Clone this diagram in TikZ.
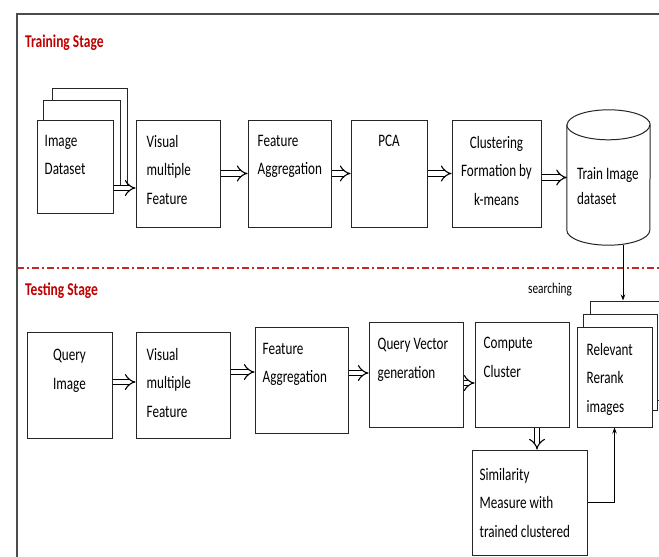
\documentclass[tikz,border=0pt]{standalone}
\usepackage{fontspec}
\setmainfont{Carlito}[FakeStretch=0.75]
\usetikzlibrary{shapes.geometric, arrows.meta, calc}
\definecolor{stagered}{HTML}{C00000}

\begin{document}
\begin{tikzpicture}[
         x=1pt, y=-1pt,
         box/.style={draw=black!85, line width=1pt, fill=white, inner sep=0pt},
         boxtext/.style={font=\fontsize{17.5}{28.5}\selectfont, align=left, anchor=north west, inner sep=0pt},
         ctrtext/.style={boxtext, align=center, anchor=north},
         stage/.style={font=\fontsize{18}{20}\selectfont\bfseries, text=stagered, anchor=base west, inner sep=0pt},
         dbl/.style={double, double distance=4.5pt, line width=1.1pt, -{Implies}},
         arr/.style={-{Stealth[length=6pt]}, line width=1pt},
         frame/.style={draw=black!70, line width=1.5pt},
         divider/.style={draw=stagered!85, line width=1.2pt, dash pattern=on 7pt off 3pt on 2pt off 3pt}
      ]
         \useasboundingbox (0,0) rectangle (659,557);

         % Frame and stage divider
         \draw[frame] (17,557) -- (17,14) -- (659,14);
         \draw[divider] (17,268) -- (659,268);
         \node[stage] (train) at (25,47) {Training Stage};
         \node[stage] (test) at (25,295) {Testing Stage};

         % Training nodes
         \node[box, minimum width=75pt, minimum height=97pt] (img3) at (89.5,136.5) {};
         \node[box, minimum width=77pt, minimum height=90pt] (img2) at (81.5,145) {};
         \node[box, minimum width=76pt, minimum height=93pt] (imgds) at (75,166.5) {};
         \node[box, minimum width=84pt, minimum height=107pt] (vmf) at (178,173.5) {};
         \node[box, minimum width=83pt, minimum height=107pt] (fa) at (289.5,173.5) {};
         \node[box, minimum width=76pt, minimum height=107pt] (pca) at (389,173.5) {};
         \node[box, minimum width=89pt, minimum height=107pt] (clu) at (496.5,173.5) {};
         \node[minimum width=83pt, minimum height=135pt, inner sep=0pt] (trainds) at (608.5,177.5) {};

         % Cylinder round the train store
         \draw[box] ([yshift=-15pt]trainds.north west) -- ([yshift=15pt]trainds.south west)
            arc[start angle=180, end angle=360, x radius=41.5pt, y radius=15pt]
            -- ([yshift=-15pt]trainds.north east)
            arc[start angle=0, end angle=180, x radius=41.5pt, y radius=15pt] -- cycle;
         \draw[box] ([yshift=-15pt]trainds.north west)
            arc[start angle=180, end angle=360, x radius=41.5pt, y radius=15pt];

         \node[boxtext] (imgds-t) at ([shift={(8pt,-15.5pt)}]imgds.north west) {Image\\Dataset};
         \node[boxtext] (vmf-t) at ([shift={(11pt,-15.5pt)}]vmf.north west) {Visual\\multiple\\Feature};
         \node[boxtext] (fa-t) at ([shift={(10pt,-15.5pt)}]fa.north west) {Feature\\Aggregation};
         \node[ctrtext] (pca-t) at ([yshift=-15.5pt]pca.north) {PCA};
         \node[ctrtext] (clu-t) at ([yshift=-16.5pt]clu.north) {Clustering\\Formation by\\k-means};
         \node[boxtext, font=\fontsize{17.5}{25}\selectfont] (trainds-t) at ([shift={(10pt,10pt)}]trainds.west) {Train Image\\dataset};

         % Testing nodes
         \node[box, minimum width=85pt, minimum height=106pt] (qi) at (69.5,385) {};
         \node[box, minimum width=94pt, minimum height=106pt] (vmf2) at (183,385) {};
         \node[box, minimum width=93pt, minimum height=106pt] (fa2) at (301.5,380) {};
         \node[box, minimum width=94pt, minimum height=105pt] (qv) at (416,374.5) {};
         \node[box, minimum width=94pt, minimum height=105pt] (cc) at (522,374.5) {};
         \node[box, minimum width=78pt, minimum height=99pt] (rel3) at (629,350.5) {};
         \node[box, minimum width=74pt, minimum height=96pt] (rel2) at (620,362) {};
         \node[box, minimum width=75pt, minimum height=100pt] (rel) at (614.5,377) {};
         \node[box, minimum width=115pt, minimum height=105pt] (sim) at (529.5,502.5) {};

         \node[ctrtext] (qi-t) at ([yshift=-17.5pt]qi.north) {Query\\Image};
         \node[boxtext] (vmf2-t) at ([shift={(11pt,-16.5pt)}]vmf2.north west) {Visual\\multiple\\Feature};
         \node[boxtext] (fa2-t) at ([shift={(8pt,-16.5pt)}]fa2.north west) {Feature\\Aggregation};
         \node[boxtext] (qv-t) at ([shift={(9pt,-16.5pt)}]qv.north west) {Query Vector\\generation};
         \node[boxtext] (cc-t) at ([shift={(9pt,-15.5pt)}]cc.north west) {Compute\\Cluster};
         \node[boxtext] (rel-t) at ([shift={(10pt,-16.5pt)}]rel.north west) {Relevant\\Rerank\\images};
         \node[boxtext] (sim-t) at ([shift={(8pt,-18.5pt)}]sim.north west) {Similarity\\Measure with\\trained clustered};
         \node[font=\fontsize{15}{17}\selectfont, anchor=base, inner sep=0pt] (srch) at (550,293) {searching};

         % Arrows
         \draw[dbl] ([yshift=-21.5pt]imgds.east) -- ([yshift=-21.5pt]imgds.east -| vmf.west);
         \draw[dbl] (vmf) -- (fa);
         \draw[dbl] (fa) -- (pca);
         \draw[dbl] (pca) -- (clu);
         \draw[dbl] (clu.east |- trainds) -- (trainds);
         \draw[arr] ([xshift=14.5pt]trainds.south) -- ([xshift=14.5pt]trainds.south |- rel3.north);

         \draw[dbl] ([yshift=3pt]qi.east) -- ([yshift=3pt]qi.east -| vmf2.west);
         \draw[dbl] ([yshift=13pt]vmf2.east) -- ([yshift=13pt]vmf2.east -| fa2.west);
         \draw[dbl] ([yshift=7pt]fa2.east) -- ([yshift=7pt]fa2.east -| qv.west);
         \draw[dbl] ([yshift=-8.5pt]qv.east) -- ([yshift=-8.5pt]qv.east -| cc.west);
         \draw[dbl] ([xshift=15pt]cc.south) -- ([xshift=15pt]cc.south |- sim.north);
         \draw[arr] (sim.east) -| (rel.south);

      \end{tikzpicture}
\end{document}
